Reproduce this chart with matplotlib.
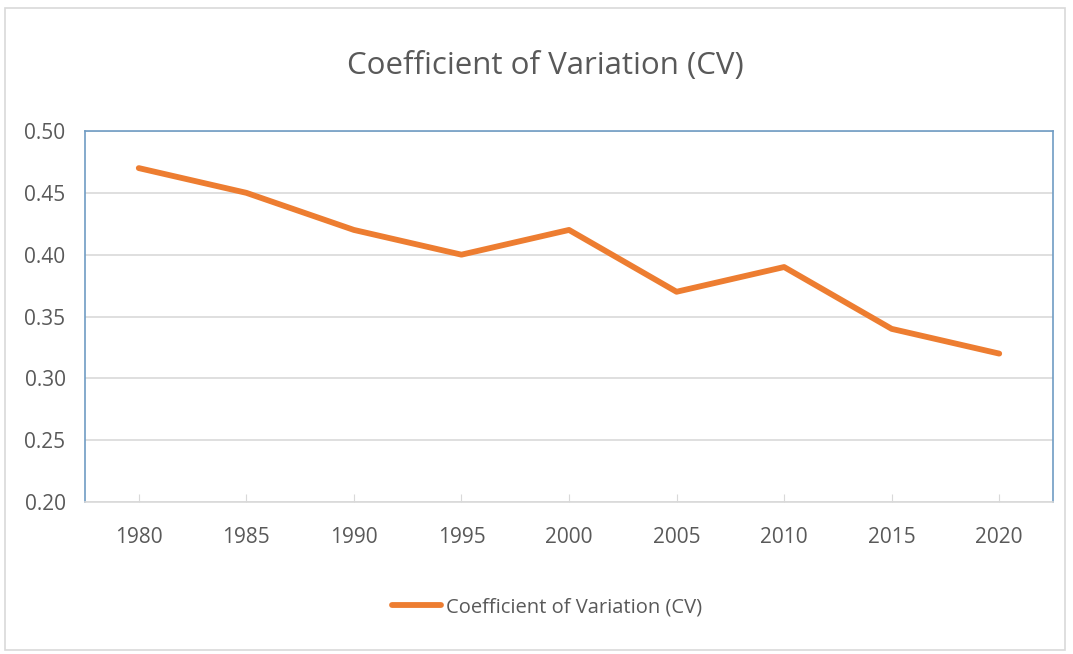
import matplotlib
matplotlib.use("Agg")
import matplotlib.pyplot as plt
from matplotlib.patches import Rectangle

years = ["1980", "1985", "1990", "1995", "2000", "2005", "2010", "2015", "2020"]
cv = [0.47, 0.45, 0.42, 0.40, 0.42, 0.37, 0.39, 0.34, 0.32]
yticks = [0.20, 0.25, 0.30, 0.35, 0.40, 0.45, 0.50]

fam = ["Open Sans", "DejaVu Sans"]
plt.rcParams['font.family'] = fam
txt = "#595959"

fig = plt.figure(figsize=(10.73, 6.54), dpi=100)
fig.patches.append(Rectangle((5/1073, 4/654), 1060/1073, 642/654, transform=fig.transFigure,
                             fill=False, edgecolor="#d9d9d9", linewidth=1.2))
ax = fig.add_axes([85/1073, 1-502/654, 968/1073, 371/654])

x = list(range(len(years)))
ax.plot(x, cv, color="#ED7D31", linewidth=4.2, solid_capstyle="round",
        label="Coefficient of Variation (CV)")
ax.set_xlim(-0.5, len(years)-0.5)
ax.set_ylim(0.20, 0.50)
ax.set_yticks(yticks)
ax.set_yticklabels([f"{v:.2f}" for v in yticks])
ax.set_xticks(x)
ax.set_xticklabels(years)
ax.grid(axis="y", color="#d9d9d9", linewidth=1.2)
ax.set_axisbelow(True)
for s in ["left", "top", "right"]:
    ax.spines[s].set_color("#6f9cc4")
    ax.spines[s].set_linewidth(1.2)
ax.spines["bottom"].set_color("#d9d9d9")
ax.spines["bottom"].set_linewidth(1.2)
ax.tick_params(axis="y", length=0, labelsize=15, labelcolor=txt, pad=14)
ax.tick_params(axis="x", direction="in", length=6, color="#d9d9d9", labelsize=15,
               labelcolor=txt, pad=18)

fig.text(0.508, 1-66/654, "Coefficient of Variation (CV)", ha="center", va="center",
         fontsize=22.5, color=txt)
fig.legend(loc="center", bbox_to_anchor=(0.51, 1-607/654), frameon=False,
           fontsize=14.5, labelcolor=txt, handlelength=2.4, handletextpad=0.25)

fig.savefig("out.png", dpi=100)
